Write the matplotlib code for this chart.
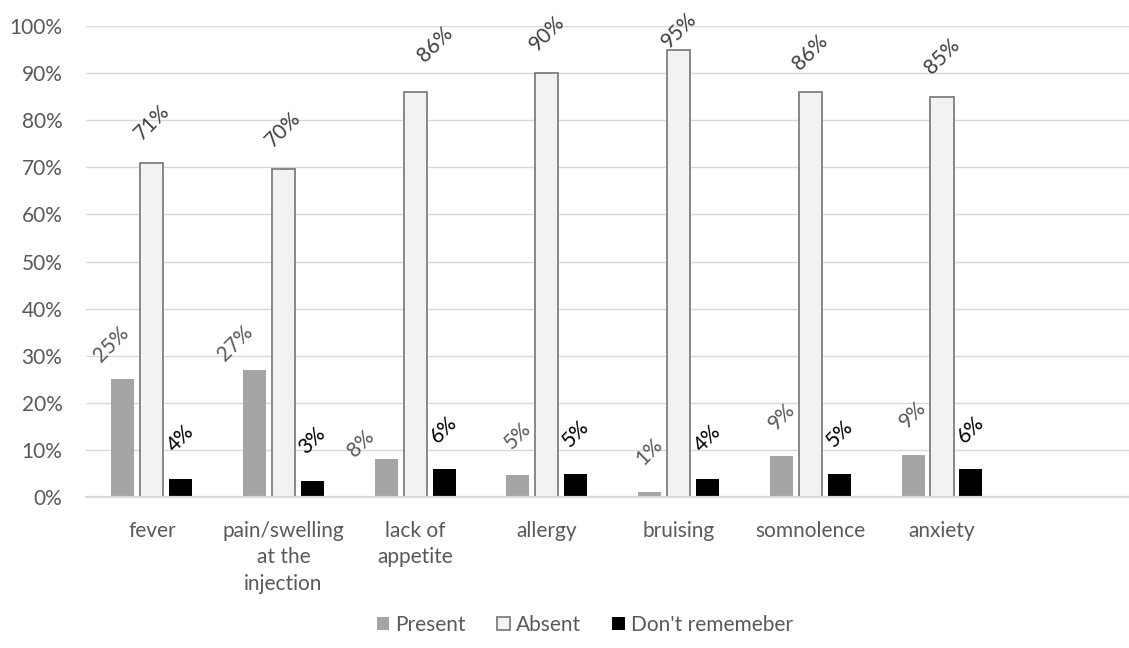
import numpy as np
import matplotlib
matplotlib.use("Agg")
import matplotlib.pyplot as plt
from matplotlib.ticker import PercentFormatter

plt.rcParams["font.family"] = ["Lato", "DejaVu Sans"]

categories = ["fever", "pain/swelling\nat the\ninjection", "lack of\nappetite",
              "allergy", "bruising", "somnolence", "anxiety"]
present = [25, 27, 8.1, 4.6, 1.1, 8.6, 8.9]
absent = [71, 69.6, 86, 90, 95, 86, 85]
dont_remember = [3.9, 3.4, 5.9, 4.9, 3.9, 4.9, 5.9]
series_names = ["Present", "Absent", "Don't rememeber"]

# label nudges (pixels) where the original labels were dragged by hand
nudges = {(0, 0): (-12, 4), (0, 1): (-19, 12), (0, 2): (-25, 24),
          (1, 2): (20, -9), (1, 4): (0, 20)}

fig = plt.figure(figsize=(11.29, 6.48), dpi=100)
ax = fig.add_axes([86 / 1129, 1 - 497 / 648, 1 - 86 / 1129, (497 - 26) / 648])

x = np.arange(len(categories))
width = 0.175
step = 0.22
styles = [
    dict(color="#a5a5a5", edgecolor="none", lw=0),
    dict(color="#f2f2f2", edgecolor="#7f7f7f", lw=1.3),
    dict(color="#000000", edgecolor="none", lw=0),
]
label_colors = ["#595959", "#404040", "#000000"]

for i, (vals, name) in enumerate(zip([present, absent, dont_remember], series_names)):
    pos = x + (i - 1) * step
    ax.bar(pos, vals, width, label=name, zorder=3, **styles[i])
    for j, v in enumerate(vals):
        dx, dy = nudges.get((i, j), (0, -1))
        ax.annotate(f"{int(v + 0.5)}%", (pos[j], v), xytext=(dx, 39 - dy),
                    textcoords="offset pixels", ha="center", va="center",
                    rotation=45, fontsize=15, color=label_colors[i],
                    annotation_clip=False)

ax.set_xlim(-0.5, 7.42)
ax.set_ylim(0, 100)
ax.set_yticks(np.arange(0, 101, 10))
ax.yaxis.set_major_formatter(PercentFormatter(decimals=0))
ax.set_xticks(x)
ax.set_xticklabels(categories, linespacing=1.42)
ax.tick_params(axis="both", length=0, labelsize=15, labelcolor="#595959")
ax.tick_params(axis="y", pad=17)
ax.tick_params(axis="x", pad=17)
ax.grid(axis="y", color="#d9d9d9", lw=1.0, zorder=0)
for s in ["left", "right", "top"]:
    ax.spines[s].set_visible(False)
ax.spines["bottom"].set_color("#d9d9d9")
ax.spines["bottom"].set_linewidth(1.6)
ax.spines["bottom"].set_zorder(4)

fig.legend(loc="center", bbox_to_anchor=(585 / 1129, 1 - 625 / 648), ncol=3,
           frameon=False, fontsize=15, labelcolor="#595959", handlelength=0.6,
           handleheight=0.6, handletextpad=0.3, columnspacing=1.5)

fig.savefig("out.png", dpi=100)
